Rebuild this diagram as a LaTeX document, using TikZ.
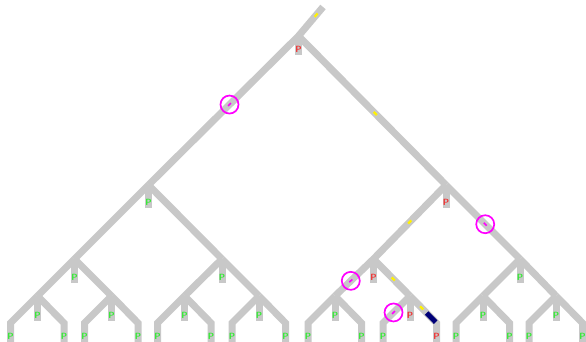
\documentclass[tikz,border=0pt]{standalone}
\usetikzlibrary{calc}
\definecolor{pipegray}{RGB}{200,200,200}
\definecolor{pgreen}{RGB}{50,235,50}
\definecolor{pred}{RGB}{240,50,50}
\definecolor{navyblue}{RGB}{0,0,120}
\definecolor{ringmag}{RGB}{255,0,255}
\begin{document}
\begin{tikzpicture}[x=1pt,y=-1pt,
  pipe/.style={draw=pipegray, line width=7pt, line cap=butt, line join=miter},
  plabel/.style={font=\sffamily\bfseries\fontsize{9}{9}\selectfont, inner sep=0pt},
  pg/.style={plabel, text=pgreen},
  pr/.style={plabel, text=pred},
  ymark/.style={sloped, fill=yellow, minimum width=4.5pt, minimum height=2.2pt, inner sep=0pt},
  ring/.style={circle, draw=ringmag, line width=1.7pt, minimum size=18pt, inner sep=0pt},
  mmark/.style={sloped, fill=ringmag, minimum width=4pt, minimum height=1.6pt, inner sep=0pt}]
\fill[white] (0,0) rectangle (586,342);
\useasboundingbox (0,0) rectangle (586,342);
% junctions
\coordinate (t) at (323,7);
\coordinate (r) at (298.5,36);
\coordinate (l1) at (148.5,185);
\coordinate (r1) at (446,185);
\coordinate (l2a) at (74.5,259);
\coordinate (l2b) at (222,259);
\coordinate (r2a) at (373.5,259);
\coordinate (r2b) at (520,259);
\foreach \n/\x in {a/37.5,b/111.5,c/184.5,d/259,e/335,f/410,g/483,h/556}{
  \coordinate (\n) at (\x,296);
  \coordinate (\n L) at (\x-27,323);
  \coordinate (\n Le) at (\x-27,342);
  \coordinate (\n R) at (\x+26.5,323);
  \coordinate (\n Re) at (\x+26.5,342);
  \coordinate (\n S) at (\x,321);
}
\coordinate (rS) at (298.5,55);
\coordinate (l1S) at (148.5,208);
\coordinate (r1S) at (446,208);
\foreach \n in {l2a,l2b,r2a,r2b}{\coordinate (\n S) at ($(\n)+(0,24)$);}
% pipes
\draw[pipe] (t) -- (r) -- (l1);
\draw[pipe] (r) -- (r1);
\draw[pipe] (l1) -- (l2a);
\draw[pipe] (l1) -- (l2b);
\draw[pipe] (r1) -- (r2a);
\draw[pipe] (r1) -- (r2b);
\draw[pipe] (l2a) -- (a); \draw[pipe] (l2a) -- (b);
\draw[pipe] (l2b) -- (c); \draw[pipe] (l2b) -- (d);
\draw[pipe] (r2a) -- (e); \draw[pipe] (r2a) -- (f);
\draw[pipe] (r2b) -- (g); \draw[pipe] (r2b) -- (h);
\foreach \n in {a,b,c,d,e,f,g,h}{
  \draw[pipe] (\n) -- (\n L) -- (\n Le);
  \draw[pipe] (\n) -- (\n R) -- (\n Re);
  \draw[pipe] (\n) -- (\n S);
}
\foreach \n in {r,l1,r1,l2a,l2b,r2a,r2b}{\draw[pipe] (\n) -- (\n S);}
% labels
\node[pr] (pr0) at ($(rS)+(0,-6)$) {P};
\node[pg] (pl1) at ($(l1S)+(0,-6)$) {P};
\node[pr] (pr1) at ($(r1S)+(0,-6)$) {P};
\node[pg] (pl2a) at ($(l2aS)+(0,-6)$) {P};
\node[pg] (pl2b) at ($(l2bS)+(0,-6)$) {P};
\node[pr] (pr2a) at ($(r2aS)+(0,-6)$) {P};
\node[pg] (pr2b) at ($(r2bS)+(0,-6)$) {P};
\foreach \n in {a,b,c,d,e,g,h}{
  \node[pg] (p\n S) at ($(\n S)+(0,-6)$) {P};
  \node[pg] (p\n L) at ($(\n Le)+(0,-6)$) {P};
  \node[pg] (p\n R) at ($(\n Re)+(0,-6)$) {P};
}
\node[pr] (pfS) at ($(fS)+(0,-6)$) {P};
\node[pg] (pfL) at ($(fLe)+(0,-6)$) {P};
\node[pr] (pfR) at ($(fRe)+(0,-6)$) {P};
% navy segment
\draw[navyblue, line width=5pt] ($(f)!0.63!(fR)$) -- ($(f)!0.97!(fR)$);
% yellow marks
\path (r) -- (t) node[ymark, pos=0.72] (y1) {};
\path (r) -- (r1) node[ymark, pos=0.52] (y2) {};
\path (r1) -- (r2a) node[ymark, pos=0.5] (y3) {};
\path (r2a) -- (f) node[ymark, pos=0.54] (y4) {};
\path (f) -- (fR) node[ymark, pos=0.44] (y5) {};
% magenta rings
\path (r) -- (l1) node[ring, pos=0.46] (m1) {} node[mmark, pos=0.46] (m1d) {};
\path (r1) -- (r2b) node[ring, pos=0.53] (m2) {} node[mmark, pos=0.53] (m2d) {};
\path (r2a) -- (e) node[ring, pos=0.59] (m3) {} node[mmark, pos=0.59] (m3d) {};
\path (f) -- (fL) node[ring, pos=0.61] (m4) {} node[mmark, pos=0.61] (m4d) {};
\end{tikzpicture}
\end{document}
